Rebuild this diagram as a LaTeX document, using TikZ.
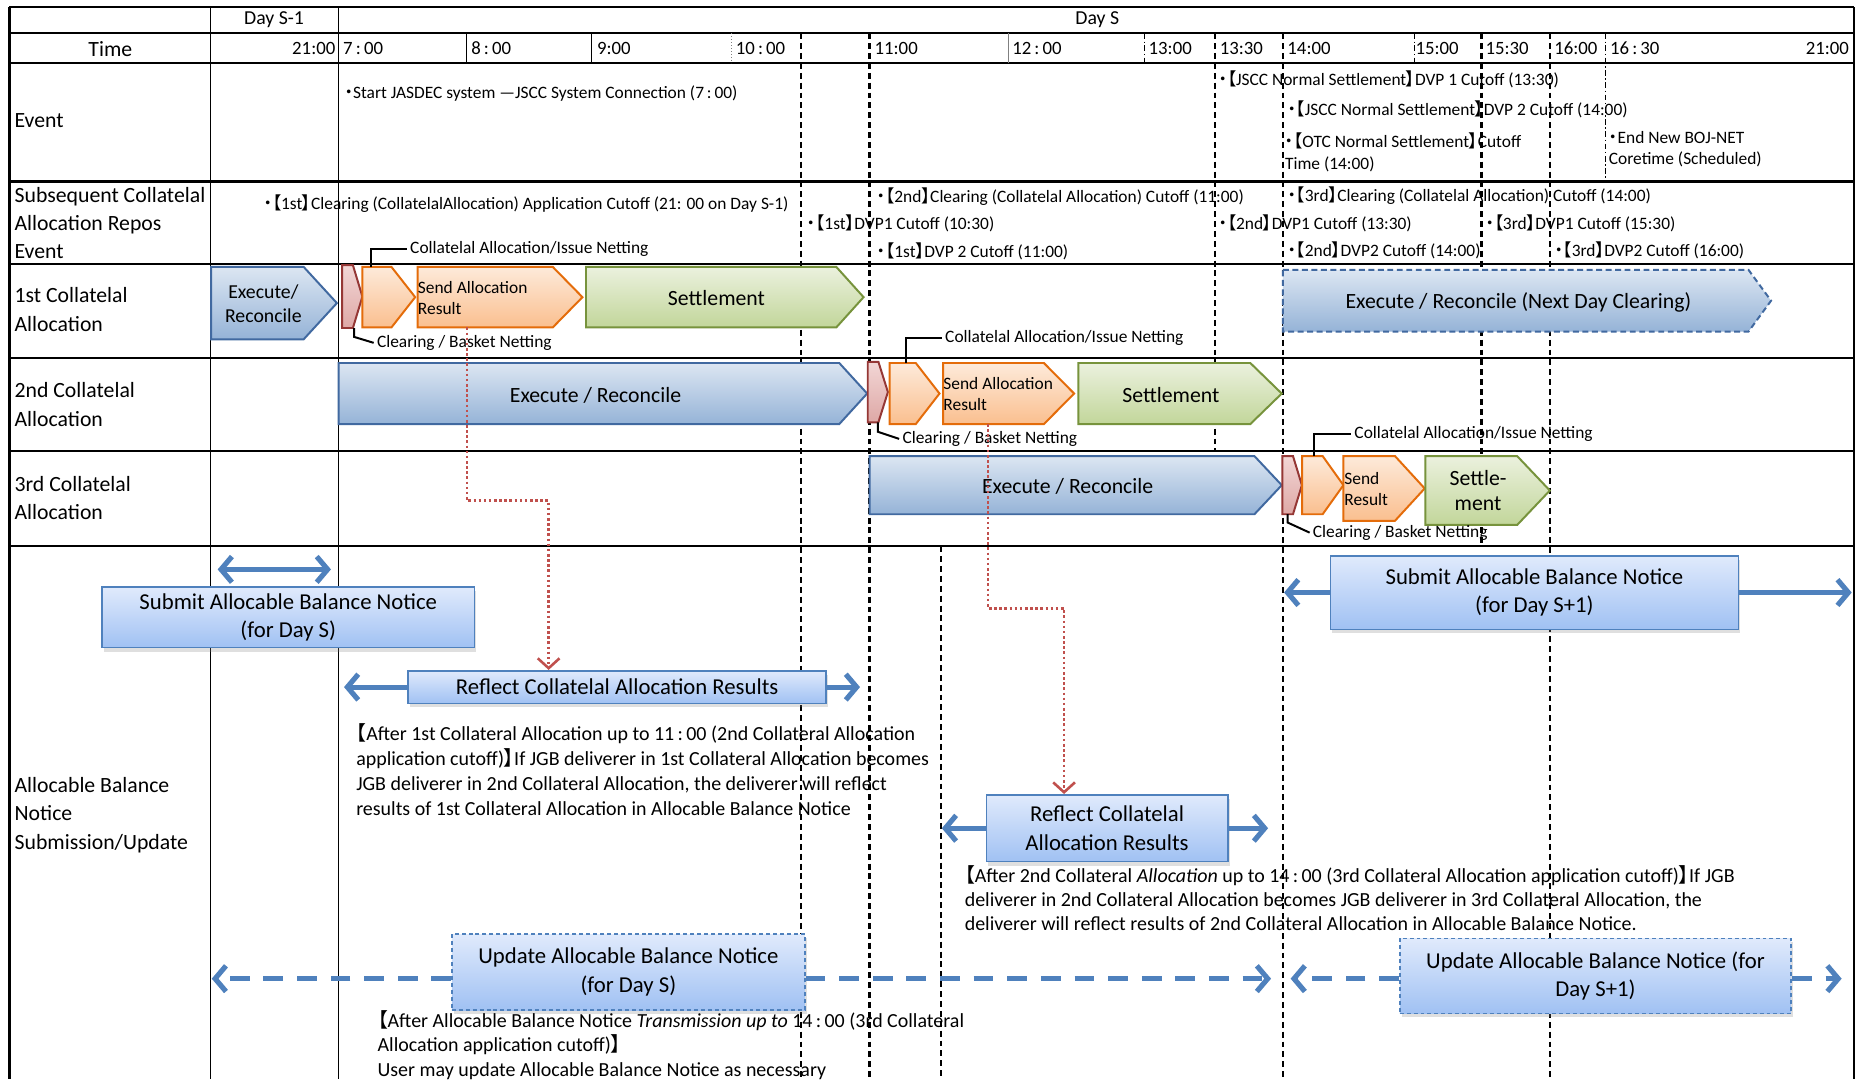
\documentclass[tikz,border=0pt]{standalone}
\usepackage{fontspec}
\setmainfont{Carlito}
\newfontfamily\cjkf[RawFeature=+palt]{Noto Sans CJK JP}
\usetikzlibrary{arrows.meta,shadows}

\newcommand\LBk{{\cjkf 【}}
\newcommand\RBk{{\cjkf 】}}
\newcommand\Mdot{{\cjkf ・}}
\newcommand\Wcol{\,:\,}
\newcommand\fLab{\fontsize{11}{14.4}\selectfont}
\newcommand\fShp{\fontsize{11}{12.6}\selectfont}
\newcommand\fSm{\fontsize{8.8}{11.2}\selectfont}
\newcommand\fTm{\fontsize{9.5}{11}\selectfont}
\newcommand\fBox{\fontsize{11.5}{14.4}\selectfont}
\newcommand\fPar{\fontsize{10.1}{12.6}\selectfont}

\definecolor{bluetop}{RGB}{220,230,242}
\definecolor{bluebot}{RGB}{149,179,215}
\definecolor{blueedge}{RGB}{65,105,160}
\definecolor{orgtop}{RGB}{253,234,218}
\definecolor{orgbot}{RGB}{250,191,143}
\definecolor{orgedge}{RGB}{228,108,10}
\definecolor{grntop}{RGB}{235,241,222}
\definecolor{grnbot}{RGB}{194,214,154}
\definecolor{grnedge}{RGB}{119,147,60}
\definecolor{redtop}{RGB}{242,214,213}
\definecolor{redbot}{RGB}{222,168,166}
\definecolor{rededge}{RGB}{149,55,53}
\definecolor{boxtop}{RGB}{224,234,252}
\definecolor{boxbot}{RGB}{160,193,243}
\definecolor{boxedge}{RGB}{79,129,189}
\definecolor{arrowblue}{RGB}{79,129,189}
\definecolor{dotred}{RGB}{192,80,77}

\tikzset{
  grid/.style={line width=1.1pt},
  col/.style={line width=0.7pt},
  tick/.style={line width=0.5pt},
  vdash/.style={line width=1.2pt, dash pattern=on 3pt off 2pt},
  vdashdot/.style={line width=0.6pt, dash pattern=on 3pt off 1.2pt on 0.8pt off 1.2pt},
  lab/.style={inner sep=0pt, font=\fLab, align=left},
  sm/.style={inner sep=0pt, anchor=west, font=\fSm, align=left},
  calltxt/.style={sm, inner xsep=1.5pt},
  callline/.style={line width=1pt},
  tm/.style={inner sep=0pt, anchor=west, font=\fTm},
  paratext/.style={inner sep=0pt, anchor=west, align=left, font=\fPar},
  shptxt/.style={inner sep=0pt, font=\fShp, align=center},
  sendtxt/.style={inner sep=0pt, anchor=west, align=left, font=\fontsize{8.8}{10.8}\selectfont},
  bluechev/.style={draw=blueedge, line width=1pt, top color=bluetop, bottom color=bluebot},
  nextchev/.style={bluechev, dash pattern=on 3pt off 1.8pt},
  orgchev/.style={draw=orgedge, line width=1pt, top color=orgtop, bottom color=orgbot},
  grnchev/.style={draw=grnedge, line width=1pt, top color=grntop, bottom color=grnbot},
  redchev/.style={draw=rededge, line width=1pt, top color=redtop, bottom color=redbot},
  abox/.style={draw=boxedge, line width=0.8pt, top color=boxtop, bottom color=boxbot,
    align=center, font=\fBox, inner sep=0pt,
    drop shadow={opacity=0.25, shadow xshift=1pt, shadow yshift=-2pt}},
  ubox/.style={abox, dash pattern=on 2pt off 1.5pt},
  bsize/.style 2 args={minimum width=#1*0.6pt, minimum height=#2*0.6pt},
  barrow/.style={draw=arrowblue, line width=2.6pt},
  darrow/.style={barrow, dash pattern=on 10pt off 7pt},
  rdot/.style={draw=dotred, line width=1.3pt, dash pattern=on 1.3pt off 1.3pt,
    -{Straight Barb[length=5pt,width=11pt]}}
}

% chevron: style, left x, shoulder x, tip x, top y, bottom y
\newcommand\chevshape[6]{%
  \path[#1] (#2,#5) -- (#3,#5) -- (#4,{(#5+#6)/2}) -- (#3,#6) -- (#2,#6) -- cycle;}

\begin{document}
\begin{tikzpicture}[x=0.6pt,y=-0.6pt, >={Straight Barb[length=5.5pt,width=13pt]}]
\useasboundingbox (0,0) rectangle (1568,910);
\fill[white] (0,0) rectangle (1568,910);

% ---------- table frame ----------
\foreach \yy in {6,28,53,153,222.5,301.5,380.5,460.5}
  \draw[grid] (8,\yy) -- (1563,\yy);
\draw[grid] (8,6) -- (8,910);
\draw[grid] (1563,6) -- (1563,910);
\draw[col] (177.5,6) -- (177.5,910);
\draw[col] (285.5,6) -- (285.5,910);

% hour ticks in the time row
\draw[tick] (393.5,28) -- (393.5,53);
\draw[tick] (498.5,28) -- (498.5,53);
\draw[tick, gray, densely dotted] (616.5,28) -- (616.5,53);
\draw[tick, gray] (850.5,28) -- (850.5,53);
\draw[vdashdot] (965,28) -- (965,53);
\draw[vdashdot] (1192.5,28) -- (1192.5,53);
\draw[vdashdot] (1353.5,28) -- (1353.5,153);

% cutoff guide lines
\draw[vdash] (675,28) -- (675,910);
\draw[vdash] (733,28) -- (733,910);
\draw[vdash] (1024,28) -- (1024,380.5);
\draw[vdash] (1081.5,28) -- (1081.5,910);
\draw[vdash] (1249,28) -- (1249,460.5);
\draw[vdash] (1306.5,28) -- (1306.5,910);
\draw[vdash, line width=0.9pt] (793,460.5) -- (793,910);

% ---------- header ----------
\node[lab, font=\fontsize{10}{12}\selectfont] (hday1) at (231,17) {Day S-1};
\node[lab, font=\fontsize{10}{12}\selectfont] (hdays) at (925,17) {Day S};
\node[lab] (htime) at (93,41) {Time};
\node[tm, anchor=east] (t2100a) at (283,41) {21:00};
\node[tm] (t0700) at (289,41) {7\Wcol 00};
\node[tm] (t0800) at (397,41) {8\Wcol 00};
\node[tm] (t0900) at (503,41) {9:00};
\node[tm] (t1000) at (620,41) {10\Wcol 00};
\node[tm] (t1100) at (737,41) {11:00};
\node[tm] (t1200) at (853,41) {12\Wcol 00};
\node[tm] (t1300) at (968,41) {13:00};
\node[tm] (t1330) at (1028,41) {13:30};
\node[tm] (t1400) at (1085,41) {14:00};
\node[tm] (t1500) at (1193,41) {15:00};
\node[tm] (t1530) at (1252,41) {15:30};
\node[tm] (t1600) at (1310,41) {16:00};
\node[tm] (t1630) at (1357,41) {16\Wcol 30};
\node[tm, anchor=east] (t2100b) at (1559,41) {21:00};

% ---------- row labels ----------
\node[lab, anchor=west] (lEvent) at (12,102) {Event};
\node[lab, anchor=west] (lSub) at (12,188) {Subsequent Collatelal\\Allocation Repos\\Event};
\node[lab, anchor=west] (lFirst) at (12,261) {1st Collatelal\\Allocation};
\node[lab, anchor=west] (lSecond) at (12,341) {2nd Collatelal\\Allocation};
\node[lab, anchor=west] (lThird) at (12,420) {3rd Collatelal\\Allocation};
\node[lab, anchor=west] (lAlloc) at (12,687) {Allocable Balance\\Notice\\Submission/Update};

% ---------- event row ----------
\node[sm] (ev1) at (290,79) {\Mdot Start JASDEC system —JSCC System Connection (7\Wcol 00)};
\node[sm] (ev2) at (1027,67) {\Mdot\LBk JSCC Normal Settlement\RBk DVP 1 Cutoff (13:30)};
\node[sm] (ev3) at (1085,92) {\Mdot\LBk JSCC Normal Settlement\RBk DVP 2 Cutoff (14:00)};
\node[sm, font=\fontsize{8.8}{11.4}\selectfont] (ev4) at (1083,128.5) {\Mdot\LBk OTC Normal Settlement\RBk Cutoff\\Time (14:00)};
\node[sm, font=\fontsize{8.8}{10.8}\selectfont] (ev5) at (1356,126) {\Mdot End New BOJ-NET\\Coretime (Scheduled)};

% ---------- subsequent allocation events ----------
\node[sm] (su1) at (222,172) {\Mdot\LBk 1st\RBk Clearing (CollatelalAllocation) Application Cutoff (21: 00 on Day S-1)};
\node[sm] (su2) at (739,166) {\Mdot\LBk 2nd\RBk Clearing (Collatelal Allocation) Cutoff (11:00)};
\node[sm] (su3) at (680,188) {\Mdot\LBk 1st\RBk DVP1 Cutoff (10:30)};
\node[sm] (su4) at (739,212) {\Mdot\LBk 1st\RBk DVP 2 Cutoff (11:00)};
\node[sm] (su5) at (1085,165) {\Mdot\LBk 3rd\RBk Clearing (Collatelal Allocation) Cutoff (14:00)};
\node[sm] (su6) at (1027,188) {\Mdot\LBk 2nd\RBk DVP1 Cutoff (13:30)};
\node[sm] (su7) at (1252,188) {\Mdot\LBk 3rd\RBk DVP1 Cutoff (15:30)};
\node[sm] (su8) at (1085,211) {\Mdot\LBk 2nd\RBk DVP2 Cutoff (14:00)};
\node[sm] (su9) at (1310,211) {\Mdot\LBk 3rd\RBk DVP2 Cutoff (16:00)};

% ---------- 1st collateral allocation ----------
\chevshape{bluechev}{178}{256}{284}{225}{286}
\chevshape{redchev}{288.5}{297.5}{305.5}{223.5}{276.5}
\chevshape{orgchev}{305.5}{330}{350}{225}{276}
\chevshape{orgchev}{352}{466}{491}{225}{276}
\chevshape{grnchev}{494}{705}{728}{225}{276}
\chevshape{nextchev}{1081.5}{1474}{1493}{227.5}{279.5}
\node[shptxt, font=\fontsize{10}{12.6}\selectfont] (b1t) at (222,256) {Execute/\\Reconcile};
\node[sendtxt] (o2t) at (352,251) {Send Allocation\\Result};
\node[shptxt] (g1t) at (604,251) {Settlement};
\node[shptxt] (ndt) at (1280,255) {Execute / Reconcile (Next Day Clearing)};

\coordinate (o1top) at (312.5,225);
\coordinate (r1bot) at (298.5,276.5);
\node[calltxt] (ca1) at (343,210) {Collatelal Allocation/Issue Netting};
\node[calltxt] (cb1) at (315,289) {Clearing / Basket Netting};
\draw[callline] (o1top) |- (ca1.west);
\draw[callline] (r1bot) -- ++(0,7.5) -- (cb1.west);

% ---------- 2nd collateral allocation ----------
\chevshape{bluechev}{285.5}{707.5}{731}{306}{357.5}
\chevshape{redchev}{731.5}{740.5}{748.5}{305}{356}
\chevshape{orgchev}{750}{772}{792}{306}{357.5}
\chevshape{orgchev}{795}{880}{905.5}{306}{357.5}
\chevshape{grnchev}{909}{1054}{1080.5}{306}{357.5}
\node[shptxt] (b2t) at (502,333) {Execute / Reconcile};
\node[sendtxt] (o4t) at (795,332) {Send Allocation\\Result};
\node[shptxt] (g2t) at (987,333) {Settlement};

\coordinate (o3top) at (764,306);
\coordinate (r2bot) at (740,356);
\node[calltxt] (ca2) at (794,285) {Collatelal Allocation/Issue Netting};
\node[calltxt] (cb2) at (758,370) {Clearing / Basket Netting};
\draw[callline] (o3top) |- (ca2.west);
\draw[callline] (r2bot) -- ++(0,8) -- (cb2.west);

% ---------- 3rd collateral allocation ----------
\chevshape{bluechev}{733}{1057.5}{1080.5}{384.5}{433.5}
\chevshape{redchev}{1081}{1090}{1097.5}{384.5}{433.5}
\chevshape{orgchev}{1097.7}{1115}{1132.5}{384.5}{433.5}
\chevshape{orgchev}{1132.5}{1176}{1201}{384.5}{439}
\chevshape{grnchev}{1201.5}{1279}{1306.5}{384.5}{442.5}
\node[shptxt] (b3t) at (900,410) {Execute / Reconcile};
\node[sendtxt] (o6t) at (1133,412) {Send\\Result};
\node[shptxt] (g3t) at (1246,413.5) {Settle-\\ment};

\coordinate (o5top) at (1107.7,384.5);
\coordinate (r3bot) at (1085.5,433.5);
\node[calltxt] (ca3) at (1139,366) {Collatelal Allocation/Issue Netting};
\node[calltxt] (cb3) at (1104,449) {Clearing / Basket Netting};
\draw[callline] (o5top) |- (ca3.west);
\draw[callline] (r3bot) -- ++(0,7) -- (cb3.west);

% ---------- allocable balance notice ----------
\node[abox, bsize={314}{51}] (sub1) at (243,520.5) {Submit Allocable Balance Notice\\(for Day S)};
\node[abox, bsize={352.5}{27.6}] (refl1) at (520.25,579.2) {Reflect Collatelal Allocation Results};
\node[abox, bsize={203.5}{56.4}] (refl2) at (933.25,698.2) {Reflect Collatelal\\Allocation Results};
\node[abox, bsize={344}{62}] (sub2) at (1293.5,499.5) {Submit Allocable Balance Notice\\(for Day S+1)};
\node[ubox, bsize={297.5}{64}] (upd1) at (529.75,819.5) {Update Allocable Balance Notice\\(for Day S)};
\node[ubox, bsize={330}{63.3}] (upd2) at (1345,822.7) {Update Allocable Balance Notice (for\\Day S+1)};

\node[paratext] (p1) at (300,648.5) {\LBk After 1st Collateral Allocation up to 11\Wcol 00 (2nd Collateral Allocation\\application cutoff)\RBk If JGB deliverer in 1st Collateral Allocation becomes\\JGB deliverer in 2nd Collateral Allocation, the deliverer will reflect\\results of 1st Collateral Allocation in Allocable Balance Notice};
\node[paratext, font=\fontsize{10.1}{12}\selectfont] (p2) at (813,757) {\LBk After 2nd Collateral \textit{Allocation} up to 14\Wcol 00 (3rd Collateral Allocation application cutoff)\RBk If JGB\\deliverer in 2nd Collateral Allocation becomes JGB deliverer in 3rd Collateral Allocation, the\\deliverer will reflect results of 2nd Collateral Allocation in Allocable Balance Notice.};
\node[paratext] (p3) at (318,881) {\LBk After Allocable Balance Notice \textit{Transmission up to} 14\Wcol 00 (3rd Collateral\\Allocation application cutoff)\RBk\\User may update Allocable Balance Notice as necessary};

% submission window on day S-1
\coordinate (a1l) at (183.5,480);
\coordinate (a1r) at (279,480);
\draw[barrow, <->] (a1l) -- (a1r);

% reflection periods
\coordinate (rf1l) at (290,579.2);
\coordinate (rf1r) at (725,579.2);
\draw[barrow, ->] (refl1.west) -- (rf1l);
\draw[barrow, ->] (refl1.east) -- (rf1r);
\coordinate (rf2l) at (794,698.2);
\coordinate (rf2r) at (1069,698.2);
\draw[barrow, ->] (refl2.west) -- (rf2l);
\draw[barrow, ->] (refl2.east) -- (rf2r);

% submission window for day S+1
\coordinate (s2l) at (1082.5,499.5);
\coordinate (s2r) at (1561,499.5);
\draw[barrow, ->] (sub2.west) -- (s2l);
\draw[barrow, ->] (sub2.east) -- (s2r);

% update periods
\coordinate (u1l) at (178.5,825);
\coordinate (u1r) at (1071.5,825);
\draw[darrow, ->] (upd1.west |- u1l) -- (u1l);
\draw[darrow, ->] (upd1.east |- u1r) -- (u1r);
\coordinate (u2l) at (1088,825);
\coordinate (u2r) at (1552.5,825);
\draw[darrow, ->] (upd2.west |- u2l) -- (u2l);
\draw[darrow, ->] (upd2.east |- u2r) -- (u2r);

% allocation results feeding the notice
\coordinate (sa1b) at (393.5,276);
\coordinate (rd1m) at (462.5,422);
\draw[rdot] (sa1b) |- (rd1m) -- (rd1m |- refl1.north);
\coordinate (sa2b) at (833,357.5);
\coordinate (rd2m) at (897,512.8);
\draw[rdot] (sa2b) |- (rd2m) -- (rd2m |- refl2.north);
\end{tikzpicture}
\end{document}
